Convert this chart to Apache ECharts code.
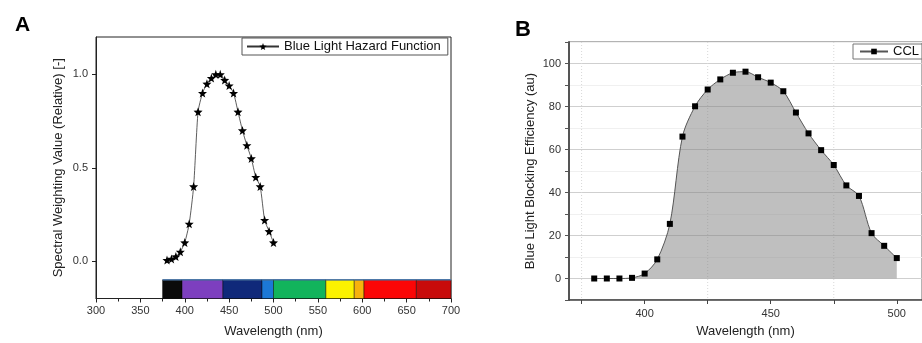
<!DOCTYPE html>
<html>
<head>
<meta charset="utf-8">
<script src="https://cdn.jsdelivr.net/npm/echarts@6/dist/echarts.min.js"></script>
<style>
html,body{margin:0;padding:0;background:#fff;}
#chart{width:922px;height:343px;}
</style>
</head>
<body>
<div id="chart"></div>
<script>
// ---- Panel A data ----
const wavelengthsA = [380,385,390,395,400,405,410,415,420,425,430,435,440,445,450,455,460,465,470,475,480,485,490,495,500];
const hazardValues = [0.006,0.012,0.025,0.05,0.10,0.20,0.40,0.80,0.90,0.95,0.98,1.0,1.0,0.97,0.94,0.90,0.80,0.70,0.62,0.55,0.45,0.40,0.22,0.16,0.10];
const yTicksA = [0, 0.5, 1.0];
const spectrumStart = [375,397,443,487,500,559,591,602,661];
const spectrumEnd   = [397,443,487,500,559,591,602,661,700];
const spectrumColors = ['#0b0b0b','#7d3fbf','#10297a','#1c78d6','#12b45c','#fbf200','#f7b20c','#fb0606','#c80b0b'];

// ---- Panel B data ----
const wavelengthsB = [380,385,390,395,400,405,410,415,420,425,430,435,440,445,450,455,460,465,470,475,480,485,490,495,500];
const cclValues = [0,0,0,0.3,2.3,8.9,25.4,66,80.1,87.9,92.6,95.7,96.2,93.6,91.1,87.1,77.2,67.5,59.7,52.8,43.3,38.4,21.1,15.2,9.5];
const xLabelsB = [400,450,500];
const xTicksB = [375,400,425,450,475,500];
const yLabelsB = [0,20,40,60,80,100];
const xGridB = [375,425,475];

const FONT = '"Liberation Sans", Arial, sans-serif';
const starPath = 'path://M0,-10L2.35,-3.24L9.51,-3.09L3.8,2.1L5.88,8.09L0,4.5L-5.88,8.09L-3.8,2.1L-9.51,-3.09L-2.35,-3.24Z';

const chart = echarts.init(document.getElementById('chart'), null, {renderer:'canvas'});

const option = {
  animation: false,
  textStyle: {fontFamily: FONT},
  title: [
    {text:'A', left:10, top:10, textStyle:{fontFamily:FONT, fontSize:21, fontWeight:'bold', color:'#000'}},
    {text:'B', left:510, top:14, textStyle:{fontFamily:FONT, fontSize:22, fontWeight:'bold', color:'#000'}}
  ],
  legend: [
    {
      data:['Blue Light Hazard Function'], left:242, top:38,
      padding:[2,7,2,4], borderColor:'#555', borderWidth:1,
      itemWidth:32, itemHeight:9,
      textStyle:{fontFamily:FONT, fontSize:13, color:'#111'}
    },
    {
      data:['CCL'], left:853, top:44,
      padding:[1,30,1,6], borderColor:'#777', borderWidth:1,
      itemWidth:28, itemHeight:7,
      textStyle:{fontFamily:FONT, fontSize:13, color:'#111'}
    }
  ],
  grid: [
    {left:96, top:37, width:355, height:261.5, show:true, borderColor:'#222', borderWidth:1},
    {left:569, top:42, width:355, height:261, show:true, borderColor:'#666', borderWidth:1}
  ],
  xAxis: [
    {
      gridIndex:0, type:'value', min:300, max:700, interval:50,
      name:'Wavelength (nm)', nameLocation:'middle', nameGap:26,
      nameTextStyle:{fontFamily:FONT, fontSize:13, color:'#222'},
      axisLine:{onZero:false, lineStyle:{color:'#222', width:1}},
      axisTick:{length:4, lineStyle:{color:'#222'}},
      minorTick:{show:true, splitNumber:2, length:3, lineStyle:{color:'#222'}},
      axisLabel:{fontFamily:FONT, fontSize:11, color:'#333', margin:7},
      splitLine:{show:false}
    },
    {
      gridIndex:1, type:'value', min:370, max:510,
      name:'Wavelength (nm)', nameLocation:'middle', nameGap:25,
      nameTextStyle:{fontFamily:FONT, fontSize:13, color:'#222'},
      axisLine:{onZero:false, lineStyle:{color:'#444', width:1.5}},
      axisTick:{length:4, customValues:xTicksB, lineStyle:{color:'#444'}},
      axisLabel:{fontFamily:FONT, fontSize:11, color:'#333', margin:8, customValues:xLabelsB},
      splitLine:{show:false}
    }
  ],
  yAxis: [
    {
      gridIndex:0, type:'value', min:-0.2, max:1.2,
      name:'Spectral Weighting Value (Relative) [-]', nameLocation:'middle', nameGap:31,
      nameTextStyle:{fontFamily:FONT, fontSize:13, color:'#222'},
      axisLine:{onZero:false, lineStyle:{color:'#222', width:1}},
      axisTick:{length:4, customValues:yTicksA, lineStyle:{color:'#222'}},
      axisLabel:{fontFamily:FONT, fontSize:11, color:'#333', margin:8, customValues:yTicksA,
                 formatter:v=>v.toFixed(1)},
      splitLine:{show:false}
    },
    {
      gridIndex:1, type:'value', min:-10, max:110, interval:10,
      name:'Blue Light Blocking Efficiency (au)', nameLocation:'middle', nameGap:32,
      nameTextStyle:{fontFamily:FONT, fontSize:13, color:'#222'},
      axisLine:{onZero:false, lineStyle:{color:'#555', width:2}},
      axisTick:{length:4, lineStyle:{color:'#555'}},
      axisLabel:{fontFamily:FONT, fontSize:11, color:'#333', margin:8, customValues:yLabelsB},
      splitLine:{show:true, lineStyle:{color:['#f0f0f0','#cfcfcf'], width:1}}
    }
  ],
  series: [
    {
      name:'spectrum', type:'custom', xAxisIndex:0, yAxisIndex:0,
      data: spectrumStart.map((s,i)=>[s, spectrumEnd[i]]),
      encode:{x:[0,1]},
      renderItem:(params, api)=>{
        const p1 = api.coord([api.value(0), -0.1]);
        const p2 = api.coord([api.value(1), -0.2]);
        return {
          type:'group',
          children:[
            {type:'rect', shape:{x:p1[0], y:p1[1], width:p2[0]-p1[0], height:p2[1]-p1[1]},
             style:{fill:spectrumColors[params.dataIndex], stroke:'rgba(0,0,0,0.45)', lineWidth:1}},
            {type:'line', shape:{x1:p1[0], y1:p1[1], x2:p2[0], y2:p1[1]},
             style:{stroke:'#4d78a8', lineWidth:1.5}}
          ]
        };
      },
      z:1
    },
    {
      name:'Blue Light Hazard Function', type:'line', xAxisIndex:0, yAxisIndex:0,
      data: wavelengthsA.map((w,i)=>[w, hazardValues[i]]),
      symbol: starPath, symbolSize:9, showSymbol:true,
      itemStyle:{color:'#000'},
      lineStyle:{color:'#333', width:0.8},
      smooth:0.2, z:3
    },
    {
      name:'vgrid', type:'custom', xAxisIndex:1, yAxisIndex:1,
      data: xGridB.map(x=>[x]),
      encode:{x:0},
      renderItem:(params, api)=>{
        const top = api.coord([api.value(0), 110]);
        const bot = api.coord([api.value(0), -10]);
        return {type:'line', shape:{x1:top[0], y1:top[1], x2:bot[0], y2:bot[1]},
                style:{stroke:'#d8d8d8', lineWidth:1, lineDash:[1,2]}};
      },
      z:1, silent:true
    },
    {
      name:'CCL', type:'line', xAxisIndex:1, yAxisIndex:1,
      data: wavelengthsB.map((w,i)=>[w, cclValues[i]]),
      symbol:'rect', symbolSize:6, showSymbol:true,
      itemStyle:{color:'#000'},
      lineStyle:{color:'#555', width:1},
      areaStyle:{color:'rgba(128,128,128,0.5)', opacity:1},
      smooth:0.3, z:3
    }
  ]
};
chart.setOption(option);
</script>
</body>
</html>
